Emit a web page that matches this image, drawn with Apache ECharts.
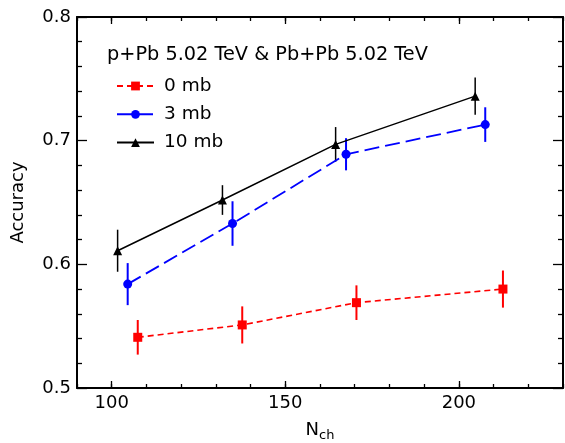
<!DOCTYPE html>
<html>
<head>
<meta charset="utf-8">
<script src="https://cdn.jsdelivr.net/npm/echarts@6/dist/echarts.min.js"></script>
<style>html,body{margin:0;padding:0;background:#fff;}#c{width:565px;height:443px;}</style>
</head>
<body>
<div id="c"></div>
<script>
// ---- data ----
var headerText = 'p+Pb 5.02 TeV & Pb+Pb 5.02 TeV';
var seriesNames = ['0 mb', '3 mb', '10 mb'];
var x0 = [107.5, 137.6, 170.5, 212.7];
var y0 = [0.541, 0.551, 0.569, 0.580];
var e0 = [0.014, 0.015, 0.014, 0.015];
var x3 = [104.6, 134.8, 167.5, 207.6];
var y3 = [0.584, 0.633, 0.689, 0.713];
var e3 = [0.017, 0.018, 0.013, 0.014];
var x10 = [101.7, 131.9, 164.5, 204.7];
var y10 = [0.611, 0.652, 0.697, 0.736];
var e10 = [0.017, 0.012, 0.014, 0.015];
var xMajorTicks = [100, 150, 200];
var xMin = 90, xMax = 230, xMinorStep = 10;
var yMin = 0.5, yMax = 0.8, yStep = 0.1;

var FONT = 'DejaVu Sans';
function pts(xs, ys) { return xs.map(function (x, i) { return [x, ys[i]]; }); }
function errPts(xs, ys, es) { return xs.map(function (x, i) { return [x, ys[i], es[i]]; }); }

function errSeries(data, color, width) {
  return {
    type: 'custom', xAxisIndex: 0, yAxisIndex: 0, z: 1, silent: true,
    data: data,
    encode: { x: 0, y: 1 },
    renderItem: function (params, api) {
      var x = api.value(0), y = api.value(1), e = api.value(2);
      var p1 = api.coord([x, y - e]);
      var p2 = api.coord([x, y + e]);
      return {
        type: 'line',
        shape: { x1: p1[0], y1: p1[1], x2: p2[0], y2: p2[1] },
        style: { stroke: color, lineWidth: width }
      };
    }
  };
}

function xAxisDef(pos, major, withLabels) {
  var a = {
    type: 'value', min: xMin, max: xMax, position: pos, gridIndex: 0,
    axisLine: { show: major, onZero: false, lineStyle: { color: '#000', width: 2 } },
    splitLine: { show: false },
    axisTick: { show: true, inside: true, length: major ? 7 : 4, lineStyle: { color: '#000', width: 1.3 } },
    axisLabel: { show: false }
  };
  if (major) {
    a.axisTick.customValues = xMajorTicks;
    a.axisLabel = { show: withLabels, customValues: xMajorTicks, fontSize: 18, fontFamily: FONT, color: '#000', margin: 6 };
  } else {
    a.interval = xMinorStep;
  }
  if (withLabels) {
    a.name = '{n|N}{s|ch}';
    a.nameLocation = 'middle';
    a.nameGap = 30;
    a.nameTextStyle = {
      rich: {
        n: { fontSize: 18, fontFamily: FONT, color: '#000', lineHeight: 24, verticalAlign: 'middle' },
        s: { fontSize: 13, fontFamily: FONT, color: '#000', lineHeight: 13, verticalAlign: 'bottom' }
      }
    };
  }
  return a;
}

function yAxisDef(pos, withLabels) {
  var a = {
    type: 'value', min: yMin, max: yMax, interval: yStep, position: pos, gridIndex: 0,
    axisLine: { show: true, onZero: false, lineStyle: { color: '#000', width: 2 } },
    splitLine: { show: false },
    axisTick: { show: true, inside: true, length: 10, lineStyle: { color: '#000', width: 1.3 } },
    minorTick: { show: true, splitNumber: 5, length: 5, lineStyle: { color: '#000', width: 1.3 } },
    minorSplitLine: { show: false },
    axisLabel: {
      show: withLabels, fontSize: 18, fontFamily: FONT, color: '#000', margin: 6,
      formatter: function (v) { return v.toFixed(1); }
    }
  };
  if (withLabels) {
    a.name = 'Accuracy';
    a.nameLocation = 'middle';
    a.nameGap = 50;
    a.nameTextStyle = { fontSize: 18, fontFamily: FONT, color: '#000' };
  }
  return a;
}

var chart = echarts.init(document.getElementById('c'), null, { renderer: 'canvas' });
chart.setOption({
  animation: false,
  backgroundColor: '#fff',
  title: {
    text: headerText, left: 102, top: 39,
    textStyle: { fontSize: 19.3, fontWeight: 'normal', fontFamily: FONT, color: '#000', lineHeight: 22 }
  },
  legend: {
    data: seriesNames, orient: 'vertical', left: 111, top: 71,
    itemWidth: 37, itemHeight: 11, itemGap: 8.3,
    textStyle: { fontSize: 18.5, fontFamily: FONT, color: '#000', lineHeight: 20, padding: [0, 0, 0, 5] }
  },
  grid: { left: 77, right: 2, top: 17, bottom: 55, containLabel: false, outerBoundsMode: 'none' },
  xAxis: [
    xAxisDef('bottom', true, true),
    xAxisDef('bottom', false, false),
    xAxisDef('top', true, false),
    xAxisDef('top', false, false)
  ],
  yAxis: [yAxisDef('left', true), yAxisDef('right', false)],
  series: [
    errSeries(errPts(x0, y0, e0), '#ff0000', 2),
    errSeries(errPts(x3, y3, e3), '#0000ff', 2),
    errSeries(errPts(x10, y10, e10), '#000000', 1.5),
    {
      name: seriesNames[0], type: 'line', xAxisIndex: 0, yAxisIndex: 0, z: 3,
      data: pts(x0, y0), symbol: 'rect', symbolSize: 9,
      itemStyle: { color: '#ff0000' },
      lineStyle: { color: '#ff0000', width: 1.6, type: [6, 4] }
    },
    {
      name: seriesNames[1], type: 'line', xAxisIndex: 0, yAxisIndex: 0, z: 3,
      data: pts(x3, y3), symbol: 'circle', symbolSize: 9,
      itemStyle: { color: '#0000ff' },
      lineStyle: { color: '#0000ff', width: 1.8, type: [15, 6] }
    },
    {
      name: seriesNames[2], type: 'line', xAxisIndex: 0, yAxisIndex: 0, z: 3,
      data: pts(x10, y10), symbol: 'triangle', symbolSize: 9,
      itemStyle: { color: '#000000' },
      lineStyle: { color: '#000000', width: 1.5, type: 'solid' }
    }
  ]
});
</script>
</body>
</html>
